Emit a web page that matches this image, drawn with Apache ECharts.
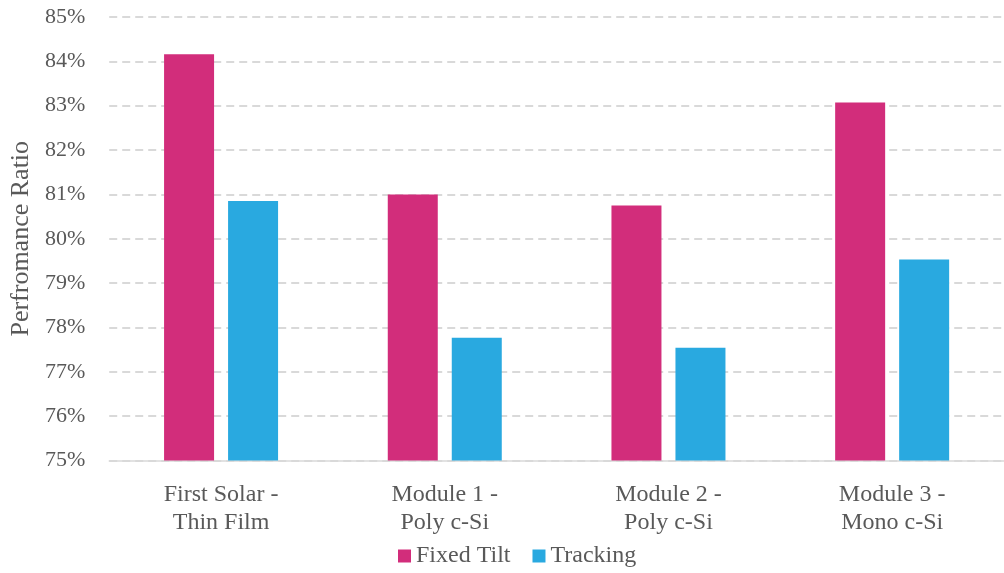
<!DOCTYPE html>
<html><head><meta charset="utf-8">
<script src="https://cdn.jsdelivr.net/npm/echarts@6/dist/echarts.min.js"></script>
<style>html,body{margin:0;padding:0;background:#fff}#c{width:1004px;height:573px}</style>
</head><body><div id="c"></div>
<script>
const categories = ['First Solar -\nThin Film', 'Module 1 -\nPoly c-Si', 'Module 2 -\nPoly c-Si', 'Module 3 -\nMono c-Si'];
const fixedTilt = [84.16, 81.0, 80.75, 83.07];
const tracking = [80.85, 77.77, 77.54, 79.53];
const seriesNames = ['Fixed Tilt', 'Tracking'];
const yTicks = { min: 75, max: 85, interval: 1 };

const font = '"Liberation Serif", "Times New Roman", serif';
const chart = echarts.init(document.getElementById('c'));
chart.setOption({
  animation: false,
  grid: { left: 107, top: 17, width: 902, height: 443.5 },
  legend: {
    data: seriesNames, bottom: 0, left: 393,
    itemWidth: 13, itemHeight: 13, itemGap: 22, icon: 'rect',
    textStyle: { fontFamily: font, fontSize: 24, color: '#595959' }
  },
  xAxis: {
    type: 'category', data: categories,
    axisLine: { lineStyle: { color: '#d9d9d9', width: 1.5 } },
    axisTick: { show: false },
    axisLabel: { fontFamily: font, fontSize: 24, color: '#595959', lineHeight: 28, margin: 20 }
  },
  yAxis: {
    type: 'value', min: yTicks.min, max: yTicks.max, interval: yTicks.interval,
    name: 'Perfromance Ratio', nameLocation: 'middle', nameGap: 74,
    nameTextStyle: { fontFamily: font, fontSize: 26, color: '#595959' },
    axisLine: { show: false }, axisTick: { show: false },
    axisLabel: { fontFamily: font, fontSize: 22, color: '#595959', margin: 24, formatter: v => v + '%' },
    splitLine: { lineStyle: { color: '#d9d9d9', type: [8, 5], width: 1.8 } }
  },
  series: [
    { name: seriesNames[0], type: 'bar', data: fixedTilt, barWidth: 50, barGap: '28%', itemStyle: { color: '#D22D7B' } },
    { name: seriesNames[1], type: 'bar', data: tracking, barWidth: 50, itemStyle: { color: '#29A9E0' } }
  ]
});
</script></body></html>
